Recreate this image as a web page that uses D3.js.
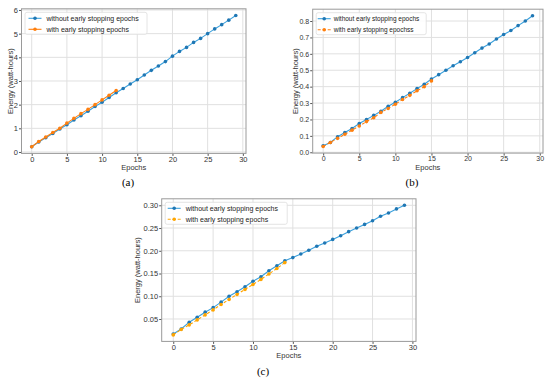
<!DOCTYPE html>
<html>
<head>
<meta charset="utf-8">
<script src="https://cdn.jsdelivr.net/npm/d3@7"></script>
<style>
  body { margin: 0; background: #fff; }
  svg { display: block; }
  text { font-family: "Liberation Sans", Arial, sans-serif; }
</style>
</head>
<body>
<svg width="550" height="381"></svg>
<script>
const epochs = d3.range(0, 30);

// panel (a)
const aWithout = [0.22, 0.42, 0.6, 0.78, 0.97, 1.15, 1.35, 1.53, 1.72, 1.92, 2.1, 2.3, 2.5, 2.68, 2.87,
	3.05, 3.25, 3.45, 3.63, 3.82, 4.05, 4.25, 4.42, 4.63, 4.8, 5.0, 5.2, 5.38, 5.57, 5.77];
const aWith = [0.22, 0.44, 0.63, 0.82, 1.0, 1.22, 1.42, 1.62, 1.8, 2.0, 2.2, 2.4, 2.6];

// panel (b)
const bWithout = [0.04, 0.06, 0.095, 0.12, 0.145, 0.175, 0.2, 0.225, 0.25, 0.28, 0.305, 0.333, 0.36, 0.388, 0.415,
	0.447, 0.473, 0.5, 0.527, 0.552, 0.578, 0.607, 0.635, 0.66, 0.69, 0.718, 0.742, 0.772, 0.8, 0.832];
const bWith = [0.035, 0.06, 0.085, 0.11, 0.135, 0.16, 0.187, 0.21, 0.243, 0.267, 0.293, 0.322, 0.347, 0.375, 0.4, 0.435];

// panel (c)
const cWithout = [0.017, 0.028, 0.043, 0.054, 0.065, 0.075, 0.087, 0.1, 0.11, 0.121, 0.133, 0.143, 0.156, 0.167, 0.178,
	0.185, 0.193, 0.201, 0.21, 0.217, 0.225, 0.233, 0.242, 0.25, 0.258, 0.266, 0.276, 0.283, 0.292, 0.3];
const cWith = [0.015, 0.027, 0.037, 0.048, 0.059, 0.07, 0.082, 0.093, 0.104, 0.115, 0.126, 0.137, 0.149, 0.161, 0.174];

const xTicks = [0, 5, 10, 15, 20, 25, 30];
const aTicks = [0, 1, 2, 3, 4, 5, 6];
const bTicks = [0, 0.1, 0.2, 0.3, 0.4, 0.5, 0.6, 0.7, 0.8];
const cTicks = [0.05, 0.1, 0.15, 0.2, 0.25, 0.3];

const legendA = ["without early stopping epochs", "with early stopping epochs"];
const legendB = ["without early stopping epochs", "with early stopping epochss"];
const legendC = ["without early stopping epochs", "with early stopping epochs"];

const svg = d3.select("svg");

function drawPanel(p) {
	const x = d3.scaleLinear().domain([-1.45, 30.45]).range([p.left, p.right]);
	const y = d3.scaleLinear().domain(p.yDomain).range([p.bottom, p.top]);
	const g = svg.append("g");

	// grid
	g.selectAll(".gx").data(xTicks).join("line")
		.attr("x1", d => x(d)).attr("x2", d => x(d))
		.attr("y1", p.top).attr("y2", p.bottom)
		.attr("stroke", "#e0e0e0").attr("stroke-width", 1);
	g.selectAll(".gy").data(p.yTicks).join("line")
		.attr("x1", p.left).attr("x2", p.right)
		.attr("y1", d => y(d)).attr("y2", d => y(d))
		.attr("stroke", "#e0e0e0").attr("stroke-width", 1);

	// axes
	const xa = g.append("g").attr("transform", `translate(0,${p.bottom})`)
		.call(d3.axisBottom(x).tickValues(xTicks).tickSize(2.5).tickPadding(0.5).tickFormat(d3.format("d")));
	const ya = g.append("g").attr("transform", `translate(${p.left},0)`)
		.call(d3.axisLeft(y).tickValues(p.yTicks).tickSize(2.5).tickPadding(1).tickFormat(p.fmt));
	[xa, ya].forEach(a => {
		a.select(".domain").remove();
		a.selectAll("line").attr("stroke", "#555");
		a.selectAll("text").attr("fill", "#333")
			.style("font-family", "'Liberation Sans', Arial, sans-serif").style("font-size", p.tickFont + "px");
	});

	// frame
	g.append("rect")
		.attr("x", p.left).attr("y", p.top)
		.attr("width", p.right - p.left).attr("height", p.bottom - p.top)
		.attr("fill", "none").attr("stroke", "#9a9a9a").attr("stroke-width", 1);

	const line = d3.line().x((d, i) => x(epochs[i])).y(d => y(d));

	// without early stopping
	g.append("path").datum(p.without)
		.attr("d", line).attr("fill", "none")
		.attr("stroke", "#3aa0dc").attr("stroke-width", 1.1);
	g.selectAll(".mw").data(p.without).join("circle")
		.attr("cx", (d, i) => x(epochs[i])).attr("cy", d => y(d))
		.attr("r", 1.8).attr("fill", "#1f77b4");

	// with early stopping
	g.append("path").datum(p.with)
		.attr("d", line).attr("fill", "none")
		.attr("stroke", p.orange).attr("stroke-width", 1.1)
		.attr("stroke-dasharray", p.dashed ? "3,2" : null);
	g.selectAll(".mo").data(p.with).join("circle")
		.attr("cx", (d, i) => x(epochs[i])).attr("cy", d => y(d))
		.attr("r", 1.8).attr("fill", p.orange);

	// legend
	const lg = g.append("g");
	lg.append("rect")
		.attr("x", p.left + 3.5).attr("y", p.top + 3.5)
		.attr("width", p.legendW).attr("height", 22)
		.attr("rx", 2).attr("fill", "#fff").attr("fill-opacity", 0.85)
		.attr("stroke", "#ddd").attr("stroke-width", 0.8);
	p.legend.forEach((t, i) => {
		const ly = p.top + 9.5 + i * 11;
		const col = i === 0 ? "#3aa0dc" : p.orange;
		lg.append("line")
			.attr("x1", p.left + p.lineX).attr("x2", p.left + p.lineX + 13)
			.attr("y1", ly).attr("y2", ly)
			.attr("stroke", col).attr("stroke-width", 1.1)
			.attr("stroke-dasharray", i === 1 && p.dashed ? "3,2" : null);
		lg.append("circle")
			.attr("cx", p.left + p.lineX + 6.5).attr("cy", ly).attr("r", 1.8)
			.attr("fill", i === 0 ? "#1f77b4" : p.orange);
		lg.append("text")
			.attr("x", p.left + p.textX).attr("y", ly + 2.6)
			.attr("fill", "#222").style("font-size", p.legendFont + "px")
			.text(t);
	});

	// axis titles
	g.append("text")
		.attr("x", (p.left + p.right) / 2).attr("y", p.bottom + 17)
		.attr("text-anchor", "middle").attr("fill", "#333")
		.style("font-size", "7.5px").text("Epochs");
	g.append("text")
		.attr("transform", `translate(${p.ylabX + 2.7},${(p.top + p.bottom) / 2}) rotate(-90)`)
		.attr("text-anchor", "middle").attr("fill", "#333")
		.style("font-size", "7.5px").text("Energy (watt-hours)");

	// sub caption
	g.append("text")
		.attr("x", p.capX).attr("y", p.capY)
		.attr("text-anchor", "middle").attr("fill", "#000")
		.style("font-family", "'Liberation Serif', serif").style("font-size", "11px")
		.text(p.caption);
}

drawPanel({
	left: 21.5, right: 246, top: 8.8, bottom: 153.4,
	yDomain: [-0.06, 6.05], yTicks: aTicks, fmt: d3.format("d"), tickFont: 7.5,
	without: aWithout, with: aWith, orange: "#ff7f0e", dashed: false,
	legend: legendA, legendW: 122, lineX: 7, textX: 25, legendFont: 7,
	ylabX: 10, caption: "(a)", capX: 128, capY: 186
});

drawPanel({
	left: 312.7, right: 543, top: 9.2, bottom: 153.1,
	yDomain: [-0.005, 0.872], yTicks: bTicks, fmt: d3.format(".1f"), tickFont: 7,
	without: bWithout, with: bWith, orange: "#ff7f0e", dashed: true,
	legend: legendB, legendW: 110, lineX: 5, textX: 21, legendFont: 6.5,
	ylabX: 295, caption: "(b)", capX: 412, capY: 186
});

drawPanel({
	left: 161.7, right: 416, top: 198.8, bottom: 341.4,
	yDomain: [0.00075, 0.31425], yTicks: cTicks, fmt: d3.format(".2f"), tickFont: 7.5,
	without: cWithout, with: cWith, orange: "#ffa500", dashed: true,
	legend: legendC, legendW: 122, lineX: 6, textX: 24, legendFont: 7,
	ylabX: 137, caption: "(c)", capX: 263, capY: 375
});
</script>
</body>
</html>
